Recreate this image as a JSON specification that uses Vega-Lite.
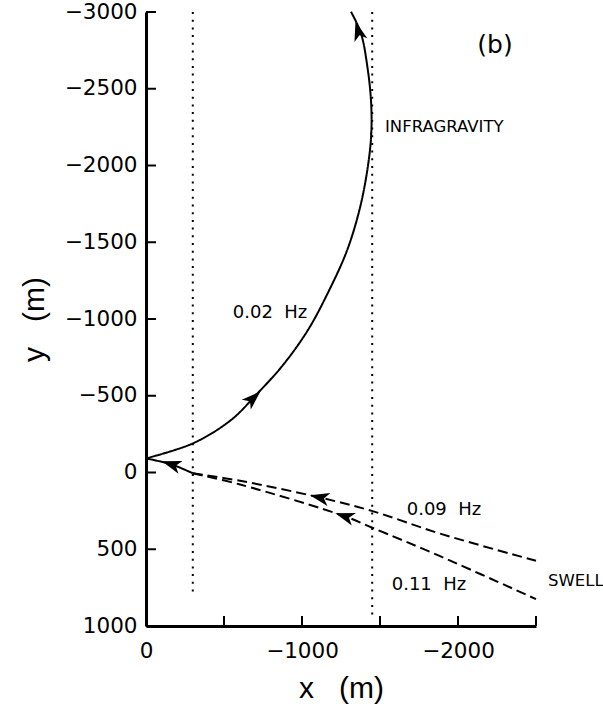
{
  "$schema": "https://vega.github.io/schema/vega-lite/v6.json",
  "width": 390,
  "height": 614,
  "autosize": {"type": "none"},
  "padding": {"left": 146, "top": 12, "right": 67, "bottom": 89},
  "background": "white",
  "config": {
    "view": {"stroke": null},
    "font": "DejaVu Sans",
    "axis": {
      "grid": false,
      "domainColor": "black",
      "domainWidth": 3,
      "ticks": false,
      "tickSize": 0,
      "labelFont": "DejaVu Sans",
      "labelFontSize": 21.5,
      "labelColor": "black",
      "labelFlush": false,
      "labelOverlap": false,
      "titleFont": "Liberation Sans",
      "titleFontSize": 30,
      "titleFontWeight": "normal",
      "titleColor": "black"
    }
  },
  "datasets": {
    "rays": [
      {"wave": "infragravity", "x": 0, "y": -92},
      {"wave": "infragravity", "x": -301, "y": -190},
      {"wave": "infragravity", "x": -545, "y": -342},
      {"wave": "infragravity", "x": -705, "y": -505},
      {"wave": "infragravity", "x": -878, "y": -700},
      {"wave": "infragravity", "x": -1038, "y": -928},
      {"wave": "infragravity", "x": -1175, "y": -1189},
      {"wave": "infragravity", "x": -1290, "y": -1450},
      {"wave": "infragravity", "x": -1376, "y": -1743},
      {"wave": "infragravity", "x": -1428, "y": -2036},
      {"wave": "infragravity", "x": -1445, "y": -2231},
      {"wave": "infragravity", "x": -1442, "y": -2427},
      {"wave": "infragravity", "x": -1419, "y": -2644},
      {"wave": "infragravity", "x": -1378, "y": -2861},
      {"wave": "infragravity", "x": -1314, "y": -3002},
      {"wave": "swell nearshore", "x": 0, "y": -92},
      {"wave": "swell nearshore", "x": -165, "y": -52},
      {"wave": "swell nearshore", "x": -300, "y": 5},
      {"wave": "0.09 Hz", "x": -300, "y": 5},
      {"wave": "0.09 Hz", "x": -603, "y": 54},
      {"wave": "0.09 Hz", "x": -1115, "y": 163},
      {"wave": "0.09 Hz", "x": -1447, "y": 250},
      {"wave": "0.09 Hz", "x": -1885, "y": 398},
      {"wave": "0.09 Hz", "x": -2500, "y": 575},
      {"wave": "0.11 Hz", "x": -300, "y": 5},
      {"wave": "0.11 Hz", "x": -603, "y": 78},
      {"wave": "0.11 Hz", "x": -1276, "y": 286},
      {"wave": "0.11 Hz", "x": -1447, "y": 358},
      {"wave": "0.11 Hz", "x": -1885, "y": 545},
      {"wave": "0.11 Hz", "x": -2500, "y": 825}
    ],
    "arrows": [
      {"x": -686, "y": -483, "heading": 47},
      {"x": -1361, "y": -2874, "heading": 344},
      {"x": -165, "y": -52, "heading": 288},
      {"x": -1115, "y": 163, "heading": 283},
      {"x": -1276, "y": 286, "heading": 288}
    ],
    "boundaries": [
      {"x": -300, "y": -3000, "y2": 790},
      {"x": -1450, "y": -3000, "y2": 960}
    ],
    "xticks": [
      {"x": 0, "y": 1000}, {"x": -500, "y": 1000}, {"x": -1000, "y": 1000},
      {"x": -1500, "y": 1000}, {"x": -2000, "y": 1000}, {"x": -2500, "y": 1000}
    ],
    "yticks": [
      {"x": 0, "y": -3000}, {"x": 0, "y": -2500}, {"x": 0, "y": -2000},
      {"x": 0, "y": -1500}, {"x": 0, "y": -1000}, {"x": 0, "y": -500},
      {"x": 0, "y": 0}, {"x": 0, "y": 500}, {"x": 0, "y": 1000}
    ],
    "labels": [
      {"text": "(b)", "x": -2237, "y": -2788, "kind": "panel"},
      {"text": "INFRAGRAVITY", "x": -1532, "y": -2251, "kind": "name"},
      {"text": "SWELL", "x": -2577, "y": 708, "kind": "name"},
      {"text": "0.02\u00a0\u00a0Hz", "x": -795, "y": -1037, "kind": "freq"},
      {"text": "0.09\u00a0\u00a0Hz", "x": -1910, "y": 247, "kind": "freq"},
      {"text": "0.11\u00a0\u00a0Hz", "x": -1814, "y": 734, "kind": "freq"}
    ]
  },
  "encoding": {
    "x": {
      "field": "x",
      "type": "quantitative",
      "scale": {"domain": [-2500, 0], "reverse": true, "nice": false, "zero": false},
      "axis": {
        "title": "x\u00a0\u00a0\u00a0(m)",
        "values": [0, -1000, -2000],
        "format": "d",
        "labelPadding": 14,
        "titlePadding": 12
      }
    },
    "y": {
      "field": "y",
      "type": "quantitative",
      "scale": {"domain": [-3000, 1000], "reverse": true, "nice": false, "zero": false},
      "axis": {
        "title": "y\u00a0\u00a0\u00a0(m)",
        "values": [-3000, -2500, -2000, -1500, -1000, -500, 0, 500, 1000],
        "format": "d",
        "labelPadding": 9,
        "titlePadding": 15
      }
    }
  },
  "layer": [
    {
      "data": {"name": "xticks"},
      "mark": {"type": "rule", "color": "black", "strokeWidth": 2, "y2Offset": -10},
      "encoding": {"y2": {"field": "y"}}
    },
    {
      "data": {"name": "yticks"},
      "mark": {"type": "rule", "color": "black", "strokeWidth": 2, "x2Offset": 10},
      "encoding": {"x2": {"field": "x"}}
    },
    {
      "data": {"name": "boundaries"},
      "mark": {"type": "rule", "color": "black", "strokeWidth": 2, "strokeDash": [2, 5.7]},
      "encoding": {"y2": {"field": "y2"}}
    },
    {
      "data": {"name": "rays"},
      "mark": {"type": "line", "color": "black", "strokeWidth": 2, "interpolate": "catmull-rom"},
      "encoding": {
        "detail": {"field": "wave"},
        "order": {"value": null},
        "strokeDash": {
          "field": "wave",
          "type": "nominal",
          "scale": {
            "domain": ["infragravity", "swell nearshore", "0.09 Hz", "0.11 Hz"],
            "range": [[1, 0], [1, 0], [10, 5], [10, 5]]
          },
          "legend": null
        }
      }
    },
    {
      "data": {"name": "arrows"},
      "mark": {
        "type": "point",
        "shape": "M 0 -1 L 0.65 0.9 L 0 0.4 L -0.65 0.9 Z",
        "filled": true,
        "color": "black",
        "size": 420,
        "opacity": 1
      },
      "encoding": {
        "angle": {"field": "heading", "type": "quantitative", "scale": {"domain": [0, 360], "range": [0, 360]}}
      }
    },
    {
      "data": {"name": "labels"},
      "transform": [{"filter": "datum.kind === 'panel'"}],
      "mark": {"type": "text", "font": "DejaVu Sans", "fontSize": 25, "align": "center", "baseline": "middle", "color": "black"},
      "encoding": {"text": {"field": "text"}}
    },
    {
      "data": {"name": "labels"},
      "transform": [{"filter": "datum.kind === 'name'"}],
      "mark": {"type": "text", "font": "DejaVu Sans", "fontSize": 16.5, "align": "left", "baseline": "middle", "color": "black"},
      "encoding": {"text": {"field": "text"}}
    },
    {
      "data": {"name": "labels"},
      "transform": [{"filter": "datum.kind === 'freq'"}],
      "mark": {"type": "text", "font": "DejaVu Sans", "fontSize": 18, "align": "center", "baseline": "middle", "color": "black"},
      "encoding": {"text": {"field": "text"}}
    }
  ]
}
